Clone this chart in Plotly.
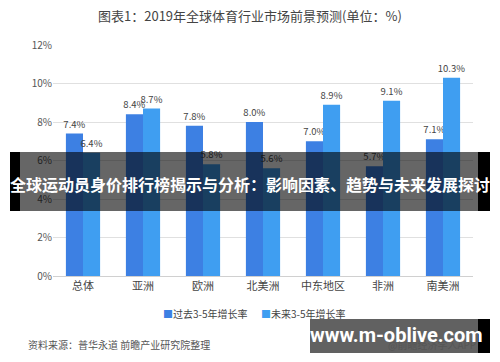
import plotly.graph_objects as go

categories = ["总体", "亚洲", "欧洲", "北美洲", "中东地区", "非洲", "南美洲"]
past_growth = [7.4, 8.4, 7.8, 8.0, 7.0, 5.7, 7.1]
future_growth = [6.4, 8.7, 5.8, 5.6, 8.9, 9.1, 10.3]
y_ticks = [0, 2, 4, 6, 8, 10, 12]
y_tick_labels = ["0%", "2%", "4%", "6%", "8%", "10%", "12%"]
series_names = ["过去3-5年增长率", "未来3-5年增长率"]
series_colors = ["#3d80e3", "#3f9ef1"]

FONT = "Noto Sans CJK SC, Microsoft YaHei, sans-serif"

# plot area in pixels
L, R, T, B = 53, 27, 45, 86
W, H = 500, 362
PW, PH = W - L - R, H - T - B


def px(x):
    return (x - L) / PW


def py(y):
    return (H - B - y) / PH


fig = go.Figure()
for name, vals, col in zip(series_names, [past_growth, future_growth], series_colors):
    fig.add_trace(go.Bar(
        x=categories, y=vals, name=name,
        marker=dict(color=col, line=dict(width=0)),
        texttemplate="%{y:.1f}%", textposition="outside", constraintext="none",
        textfont=dict(size=9.5, color="#444", family=FONT), cliponaxis=False,
    ))

shapes = [
    # top banner
    dict(type="rect", xref="paper", yref="paper", x0=px(10), x1=px(20), y0=py(211), y1=py(152),
         fillcolor="black", line=dict(width=0), layer="above"),
    dict(type="rect", xref="paper", yref="paper", x0=px(478), x1=px(490), y0=py(211), y1=py(152),
         fillcolor="black", line=dict(width=0), layer="above"),
    dict(type="rect", xref="paper", yref="paper", x0=px(20), x1=px(478), y0=py(211), y1=py(152),
         fillcolor="rgba(0,0,0,0.6)", line=dict(width=0), layer="above"),
    # bottom-right banner
    dict(type="rect", xref="paper", yref="paper", x0=px(310), x1=px(478), y0=py(353), y1=py(319),
         fillcolor="rgba(0,0,0,0.62)", line=dict(width=0), layer="above"),
    dict(type="rect", xref="paper", yref="paper", x0=px(478), x1=px(490), y0=py(353), y1=py(319),
         fillcolor="black", line=dict(width=0), layer="above"),
]

legend_text = (
    f"<span style='color:{series_colors[0]}'>■</span>{series_names[0]}"
    f"      <span style='color:{series_colors[1]}'>■</span>{series_names[1]}"
)

annotations = [
    dict(text="图表1：2019年全球体育行业市场前景预测(单位：%)", xref="paper", yref="paper",
         x=px(250), y=py(16), showarrow=False, xanchor="center", yanchor="middle",
         font=dict(size=13, color="#444", family=FONT)),
    dict(text=legend_text, xref="paper", yref="paper",
         x=px(254), y=py(313), showarrow=False, xanchor="center", yanchor="middle",
         font=dict(size=10, color="#444", family=FONT)),
    dict(text="资料来源：普华永道 前瞻产业研究院整理", xref="paper", yref="paper",
         x=px(26), y=py(344), showarrow=False, xanchor="left", yanchor="middle",
         font=dict(size=10, color="#555", family=FONT)),
    dict(text="@前瞻经济学人APP", xref="paper", yref="paper",
         x=px(478), y=py(344), showarrow=False, xanchor="right", yanchor="middle",
         font=dict(size=10, color="#555", family=FONT)),
    dict(text="<b>全球运动员身价排行榜揭示与分析：影响因素、趋势与未来发展探讨</b>",
         xref="paper", yref="paper", x=px(250), y=py(184), showarrow=False,
         xanchor="center", yanchor="middle",
         font=dict(size=16, color="white", family=FONT)),
    dict(text="<b>www.m-oblive.com</b>", xref="paper", yref="paper",
         x=px(396), y=py(335), showarrow=False, xanchor="center", yanchor="middle",
         font=dict(size=20, color="white", family="Roboto, Arial, sans-serif")),
]

fig.update_layout(
    width=W, height=H,
    margin=dict(l=L, r=R, t=T, b=B),
    paper_bgcolor="white", plot_bgcolor="white",
    barmode="group", bargap=0.43, bargroupgap=0,
    font=dict(family=FONT, size=10, color="#555"),
    showlegend=False,
    shapes=shapes, annotations=annotations,
    xaxis=dict(showgrid=False, showline=True, linecolor="#d0d0d0", linewidth=1,
               ticks="", tickfont=dict(size=11, color="#444", family=FONT), fixedrange=True),
    yaxis=dict(range=[0, 12], tickvals=y_ticks, ticktext=y_tick_labels,
               showgrid=True, gridcolor="#e0e0e0", gridwidth=1, zeroline=False,
               showline=False, ticks="", tickfont=dict(size=10, color="#555", family=FONT),
               fixedrange=True),
)

fig.write_html("out.html", config={"displayModeBar": False},
               post_script="document.body.style.margin='0';document.body.style.overflow='hidden';")
